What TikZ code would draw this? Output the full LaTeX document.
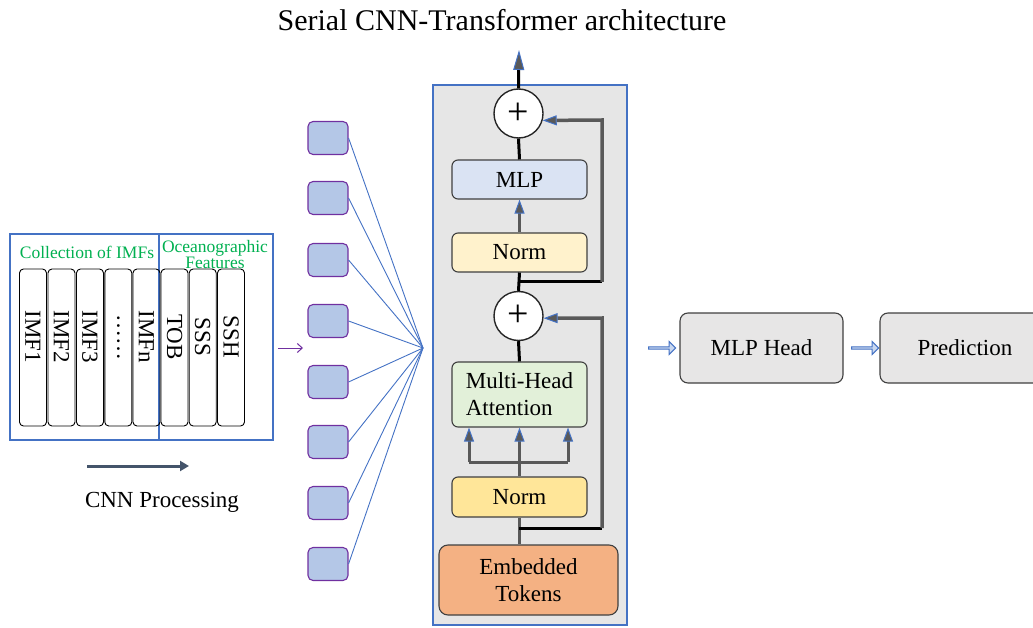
\documentclass[tikz,border=0pt]{standalone}
\usepackage{fontspec}
\setmainfont{Liberation Serif}
\usetikzlibrary{arrows.meta,shapes.arrows}
\definecolor{obox}{RGB}{68,114,196}
\definecolor{ogreen}{RGB}{0,176,80}
\definecolor{sqfill}{RGB}{180,199,231}
\definecolor{sqdraw}{RGB}{112,48,160}
\definecolor{tgray}{RGB}{230,230,230}
\definecolor{lgray}{RGB}{89,89,89}
\definecolor{mlpfill}{RGB}{218,227,243}
\definecolor{n1fill}{RGB}{255,242,204}
\definecolor{n2fill}{RGB}{255,230,153}
\definecolor{mhafill}{RGB}{226,240,217}
\definecolor{embfill}{RGB}{244,177,131}
\definecolor{headfill}{RGB}{231,230,230}
\definecolor{cnnarrow}{RGB}{68,84,106}
\definecolor{harrowfill}{RGB}{200,215,240}
\tikzset{
  mainfont/.style={font=\fontsize{23}{27}\selectfont},
  greenfont/.style={font=\fontsize{17.5}{15}\selectfont, text=ogreen},
  outerbox/.style={draw=obox, line width=1.1pt, inner sep=0pt},
  colbox/.style={draw=black, line width=0.9pt, rounded corners=4pt, minimum width=157pt, minimum height=27pt, inner sep=0pt},
  coltext/.style={mainfont, rotate=-90, inner sep=0pt},
  token/.style={draw=sqdraw, fill=sqfill, line width=1.1pt, rounded corners=5pt, minimum width=40pt, minimum height=33pt, inner sep=0pt},
  fanline/.style={draw=obox, line width=0.9pt},
  tblock/.style={draw=black!75, line width=1.1pt, rounded corners=6pt, minimum width=135pt, inner sep=0pt, mainfont},
  addcirc/.style={circle, draw=black!85, fill=white, line width=1.4pt, minimum size=49pt, inner sep=0pt, font=\fontsize{38}{38}\selectfont},
  blk/.style={draw=black, line width=3pt},
  gry/.style={draw=lgray, line width=3pt},
  tip/.style={-{Triangle[length=14pt,width=10pt,color=obox,fill=lgray,line width=1pt]}},
  headbox/.style={draw=black!75, fill=headfill, line width=1.1pt, rounded corners=8pt, minimum width=163pt, minimum height=70pt, inner sep=0pt, mainfont},
  harrow/.style={single arrow, draw=obox, fill=harrowfill, line width=1pt, minimum height=27pt, minimum width=13pt, single arrow head extend=2.5pt, inner sep=0pt}
}
\begin{document}
\begin{tikzpicture}[x=1pt,y=-1pt]
\useasboundingbox (0,0) rectangle (1033,628);
% title
\node[font=\fontsize{30}{30}\selectfont] (title) at (502,20) {Serial CNN-Transformer architecture};
% left input boxes
\node[outerbox, minimum width=149pt, minimum height=206pt] (imfbox) at (84.5,337) {};
\node[outerbox, minimum width=114pt, minimum height=206pt] (ocbox) at (216,337) {};
\node[greenfont] (imflbl) at (87,252) {Collection of IMFs};
\node[greenfont, align=center] (oclbl) at (215,254.5) {Oceanographic\\Features};
\foreach \i/\x/\t in {1/33/IMF1,2/61.5/IMF2,3/90/IMF3,4/118.3/……,5/146.5/IMFn,6/174.5/TOB,7/202.7/SSS,8/231/SSH}{
  \node[colbox, rotate=-90] (c\i) at (\x,347.5) {};
  \node[coltext] (c\i t) at (\x,337) {\t};
}
% CNN processing arrow
\coordinate (cnnA) at (87,466);
\coordinate (cnnB) at (189,466);
\draw[draw=cnnarrow, line width=3pt, -{Triangle[length=9pt,width=10pt]}] (cnnA) -- (cnnB);
\node[mainfont] (cnnlbl) at (162,502) {CNN Processing};
% purple arrow
\coordinate (pA) at (278,348);
\coordinate (pB) at (303,348);
\draw[draw=sqdraw, line width=1pt, -{Straight Barb[length=5pt,width=9pt]}] (pA) -- (pB);
% tokens
\coordinate (fan) at (423,348);
\foreach \i/\y in {1/138,2/198,3/260,4/321,5/382,6/442,7/503,8/564}{
  \node[token] (t\i) at (328,\y) {};
  \draw[fanline] (t\i.east) -- (fan);
}
% transformer
\node[draw=obox, fill=tgray, line width=1.1pt, minimum width=194pt, minimum height=540pt, inner sep=0pt] (tbox) at (530,355) {};
\node[addcirc] (add1) at (518.5,113.5) {+};
\node[tblock, fill=mlpfill, minimum height=39pt] (mlp) at (519.5,179.5) {MLP};
\node[tblock, fill=n1fill, minimum height=39pt] (norm1) at (519.5,252.5) {Norm};
\node[addcirc] (add2) at (518.5,316) {+};
\node[tblock, fill=mhafill, minimum height=65pt, align=left] (mha) at (519.5,394.5) {Multi-Head\\Attention};
\node[tblock, fill=n2fill, minimum height=40pt] (norm2) at (519.5,497) {Norm};
\node[tblock, fill=embfill, minimum width=179pt, minimum height=70pt, align=center, rounded corners=9pt] (emb) at (528.5,580) {Embedded\\Tokens};
% output arrow
\coordinate (out) at (519,50);
\draw[blk, -{Triangle[length=20pt,width=11pt,color=obox,fill=lgray,line width=1pt]}] (add1.north) -- (out);
% inner connections
\draw[blk] (mlp.north) -- (add1.south);
\draw[gry, tip] (norm1.north) -- (mlp.south);
\draw[blk] (norm1.south) -- (add2.north);
\draw[blk] (add2.south) -- (mha.north);
\draw[gry, tip] (norm2.north) -- (mha.south);
\draw[gry] (emb.north -| norm2.south) -- (norm2.south);
% triple split
\coordinate (sL) at (469,462);
\coordinate (sR) at (568,462);
\draw[gry] (sL) -- (sR);
\draw[gry, tip] (sL) -- (mha.south -| sL);
\draw[gry, tip] (sR) -- (mha.south -| sR);
% residual 1
\coordinate (r1a) at (519,282);
\coordinate (r1b) at (602,282);
\coordinate (r1c) at (602,120);
\draw[blk] (r1a) -- (r1b);
\draw[gry, line width=3.5pt, tip] (r1b) -- (r1c) -- (add1.-16);
% residual 2
\coordinate (r2a) at (519,528);
\coordinate (r2b) at (602,528);
\coordinate (r2c) at (602,318);
\draw[blk] (r2a) -- (r2b);
\draw[gry, line width=3.5pt, tip] (r2b) -- (r2c) -- (add2.-5);
% head
\node[harrow] (ha1) at (661.5,348) {};
\node[headbox] (head) at (761.5,348) {MLP Head};
\node[harrow] (ha2) at (864.5,348) {};
\node[headbox, minimum width=170pt] (pred) at (965,348) {Prediction};
\end{tikzpicture}
\end{document}
